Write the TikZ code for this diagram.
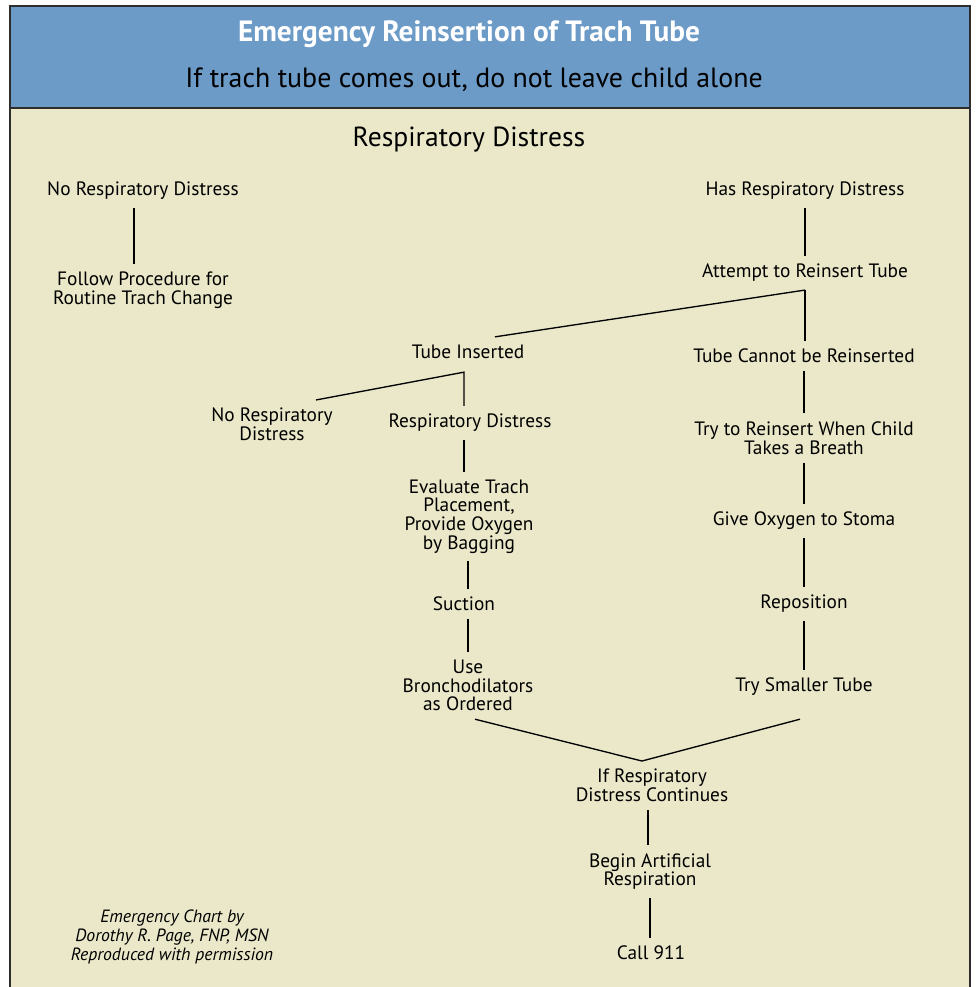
\documentclass[tikz,border=0pt]{standalone}
\usepackage{fontspec}
\setmainfont{PT Sans}
\usetikzlibrary{calc}
\definecolor{hdrblue}{RGB}{108,155,200}
\definecolor{bgbeige}{RGB}{234,232,201}
\definecolor{framegray}{RGB}{45,45,45}
\begin{document}
\begin{tikzpicture}[x=0.75pt,y=-0.75pt,
  lbl/.style={font=\fontsize{14.5}{13.9}\selectfont, align=center, inner xsep=0pt, inner ysep=6pt},
  conn/.style={draw=black, line width=1pt},
  titletxt/.style={font=\fontsize{22}{24}\selectfont\bfseries, text=white, inner sep=0pt},
  subtxt/.style={font=\fontsize{20.9}{23}\selectfont, text=black, inner sep=0pt},
  headtxt/.style={font=\fontsize{20.7}{23}\selectfont, text=black, inner sep=0pt},
  credit/.style={font=\fontsize{13.3}{14.2}\selectfont\itshape, align=center, inner sep=0pt}]
\useasboundingbox (0,0) rectangle (975,987);
\clip (0,0) rectangle (975,987);
% panel
\fill[white] (0,0) rectangle (975,987);
\fill[bgbeige] (10,6) rectangle (970,1000);
\fill[hdrblue] (10,6) rectangle (970,108);
\draw[framegray, line width=1.5pt] (10,1000) -- (10,6) -- (970,6) -- (970,1000);
\draw[framegray, line width=1.5pt] (10,108) -- (970,108);
% header
\node[titletxt] (title) at (469,34) {Emergency Reinsertion of Trach Tube};
\node[subtxt] (sub) at (474,80) {If trach tube comes out, do not leave child alone};
\node[headtxt] (head) at (469,140) {Respiratory Distress};
% left column
\node[lbl] (nord) at (143,191) {No Respiratory Distress};
\node[lbl] (follow) at (143,290) {Follow Procedure for\\Routine Trach Change};
% right column
\node[lbl] (hasrd) at (805,191) {Has Respiratory Distress};
\node[lbl] (attempt) at (805,273) {Attempt to Reinsert Tube};
\node[lbl] (tubein) at (468,352) {Tube Inserted};
\node[lbl] (cannot) at (804,356) {Tube Cannot be Reinserted};
\node[lbl] (nord2) at (272,424.5) {No Respiratory\\Distress};
\node[lbl] (rd) at (470,423) {Respiratory Distress};
\node[lbl] (evaluate) at (469,516.5) {Evaluate Trach\\Placement,\\Provide Oxygen\\by Bagging};
\node[lbl] (suction) at (464,604) {Suction};
\node[lbl] (bronch) at (468,685.5) {Use\\Bronchodilators\\as Ordered};
\node[lbl] (tryre) at (804,438) {Try to Reinsert When Child\\Takes a Breath};
\node[lbl] (giveox) at (804,521) {Give Oxygen to Stoma};
\node[lbl] (repos) at (804,604) {Reposition};
\node[lbl] (smaller) at (804,687) {Try Smaller Tube};
\node[lbl] (ifrd) at (652,785.5) {If Respiratory\\Distress Continues};
\node[lbl] (begin) at (650,871.5) {Begin Artificial\\Respiration};
\node[lbl] (call) at (651,953) {Call 911};
\node[credit] (cred) at (172,937) {Emergency Chart by\\Dorothy R. Page, FNP, MSN\\Reproduced with permission};
% connectors
\draw[conn] (134,0 |- nord.south) -- (134,0 |- follow.north);
\draw[conn] (hasrd.south) -- (hasrd.south |- attempt.north);
\draw[conn] (attempt.south) -- ($(tubein.north)+(27,0)$);
\draw[conn] (attempt.south) -- (attempt.south |- cannot.north);
\coordinate (tibr) at ($(tubein.south)+(-4,5)$);
\draw[conn] ($(nord2.north)+(44,0)$) -- (tibr) -- (tibr |- rd.north);
\draw[conn] (cannot.south) -- (cannot.south |- tryre.north);
\draw[conn] (tryre.south) -- (tryre.south |- giveox.north);
\draw[conn] (giveox.south) -- (giveox.south |- repos.north);
\draw[conn] (repos.south) -- (repos.south |- smaller.north);
\draw[conn] ($(rd.south)+(-6,0)$) -- ($(evaluate.north)+(-5,0)$);
\draw[conn] ($(evaluate.south)+(-1,0)$) -- ($(suction.north)+(4,0)$);
\draw[conn] ($(suction.south)+(4,0)$) -- (bronch.north);
\coordinate (vleft) at ($(bronch.south)+(7,0)$);
\coordinate (vright) at ($(smaller.south |- bronch.south)+(-4,0)$);
\draw[conn] (vleft) -- ($(ifrd.north)+(-10,0)$) -- (vright);
\draw[conn] ($(ifrd.south)+(-4,0)$) -- ($(begin.north)+(-2,0)$);
\draw[conn] (begin.south) -- (call.north -| begin.south);
\end{tikzpicture}
\end{document}
